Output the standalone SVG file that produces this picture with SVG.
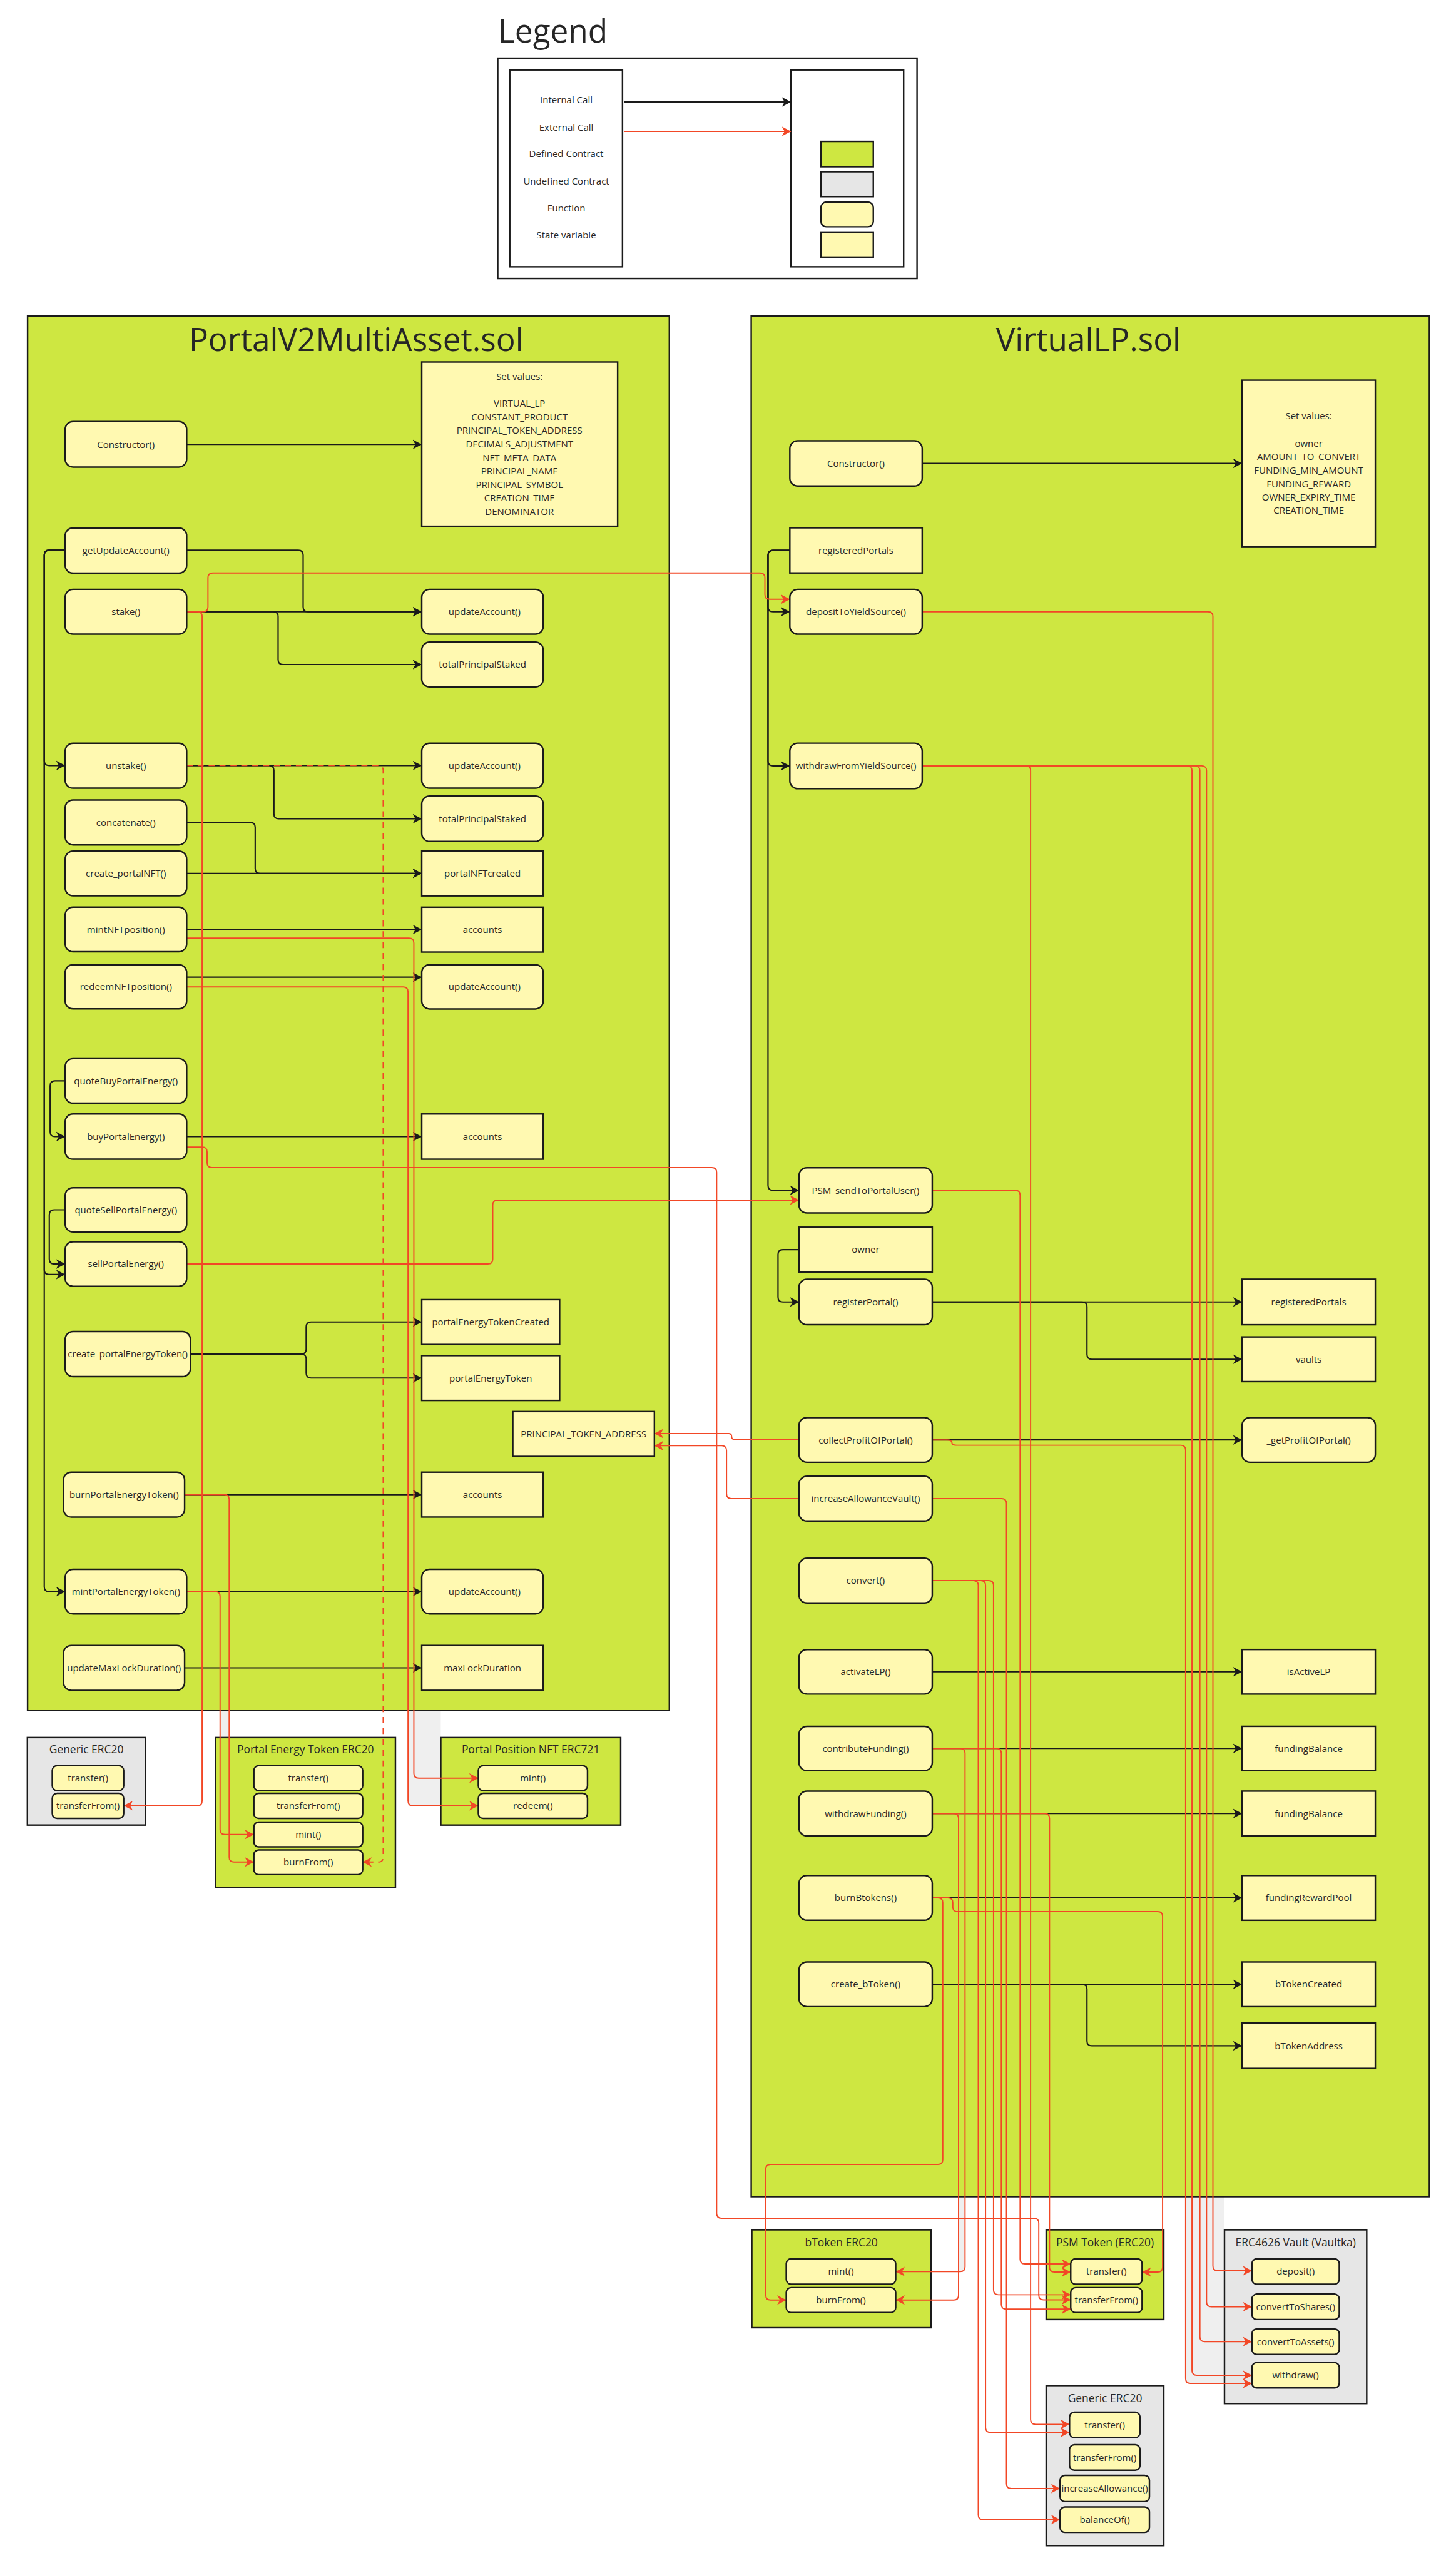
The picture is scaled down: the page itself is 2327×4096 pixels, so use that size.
<svg xmlns="http://www.w3.org/2000/svg" width="2327" height="4096" viewBox="0 0 2327 4096">
<defs>
<style>
.fn{fill:#FFF9B1;stroke:#1a1a1a;stroke-width:2.5}
.pg{fill:#CEE741;stroke:#1a1a1a;stroke-width:2.5}
.pu{fill:#E6E6E6;stroke:#1a1a1a;stroke-width:2.5}
.wb{fill:#FFFFFF;stroke:#1a1a1a;stroke-width:2.5}
.bg{fill:#EFEFEF}
text{font-family:"Open Sans","Noto Sans","Liberation Sans",sans-serif;fill:#262626}
.l{font-size:15.5px;text-anchor:middle}
.h{font-size:18px;text-anchor:middle}
.t{font-size:53px;text-anchor:middle}
.k{fill:none;stroke:#1a1a1a;stroke-width:2.2;stroke-linejoin:round;marker-end:url(#ak)}
.r{fill:none;stroke:#F24726;stroke-width:2;stroke-linejoin:round;marker-end:url(#ar)}
.d{stroke-dasharray:10 8}
</style>
<marker id="ak" markerUnits="userSpaceOnUse" markerWidth="16" markerHeight="18" refX="15" refY="9" orient="auto"><path d="M0,1 L15,9 L0,17 L4.5,9 z" fill="#1a1a1a"/></marker>
<marker id="ar" markerUnits="userSpaceOnUse" markerWidth="16" markerHeight="18" refX="15" refY="9" orient="auto"><path d="M0,1 L15,9 L0,17 L4.5,9 z" fill="#F24726"/></marker>
</defs>
<rect width="2327" height="4096" fill="#FFFFFF"/>
<g transform="scale(0.969)">

<g id="legend">
<text x="821.5" y="70" style="font-size:53px">Legend</text>
<rect class="wb" x="821" y="96" width="691.5" height="363.3"/>
<rect class="wb" x="840.8" y="115.3" width="185.9" height="324.7"/>
<rect class="wb" x="1304.5" y="115.3" width="185.9" height="324.7"/>
<text class="l" x="934" y="170">Internal Call</text>
<text class="l" x="934" y="215.5">External Call</text>
<text class="l" x="934" y="259.5">Defined Contract</text>
<text class="l" x="934" y="304.5">Undefined Contract</text>
<text class="l" x="934" y="348.5">Function</text>
<text class="l" x="934" y="393.5">State variable</text>
<path class="k" d="M1029.5,168.3 H1304.5"/>
<path class="r" d="M1029.5,216.7 H1304.5"/>
<rect class="pg" x="1354" y="233.3" width="86.4" height="41.7"/>
<rect class="pu" x="1354" y="283.3" width="86.4" height="41"/>
<rect class="fn" x="1354" y="333.3" width="86.4" height="40.7" rx="9"/>
<rect class="fn" x="1354" y="382.7" width="86.4" height="41.3"/>
</g>

<g id="bg-traces">
<rect class="bg" x="363" y="2821" width="15" height="45"/>
<rect class="bg" x="674" y="2821" width="53" height="157"/>
<rect class="bg" x="1955.5" y="3623" width="64" height="308"/>
<rect class="bg" x="1581" y="3623" width="11" height="123"/>
</g>

<g id="portal-contract">
<rect class="pg" x="45.5" y="521.2" width="1058.5" height="2299.8"/>
<text class="t" x="587.5" y="579">PortalV2MultiAsset.sol</text>
</g>
<g id="virtuallp-contract">
<rect class="pg" x="1239" y="521.2" width="1118.5" height="3101.6"/>
<text class="t" x="1795" y="579">VirtualLP.sol</text>
</g>

<g id="generic-erc20-left">
<rect class="pu" x="45.2" y="2865.7" width="194.5" height="144.3"/>
<text class="h" x="142.5" y="2892">Generic ERC20</text>
</g>
<g id="pet-erc20">
<rect class="pg" x="355.6" y="2865.7" width="296.6" height="247.6"/>
<text class="h" x="503.9" y="2892">Portal Energy Token ERC20</text>
</g>
<g id="nft-erc721">
<rect class="pg" x="727" y="2865.7" width="296.7" height="144.3"/>
<text class="h" x="875.3" y="2892">Portal Position NFT ERC721</text>
</g>
<g id="btoken-erc20">
<rect class="pg" x="1240" y="3677.5" width="295.5" height="161.5"/>
<text class="h" x="1387.7" y="3704.5">bToken ERC20</text>
</g>
<g id="psm-erc20">
<rect class="pg" x="1725.5" y="3677.5" width="194" height="148"/>
<text class="h" x="1822.5" y="3704.5">PSM Token (ERC20)</text>
</g>
<g id="vault-erc4626">
<rect class="pu" x="2019.6" y="3677.5" width="234.6" height="286.6"/>
<text class="h" x="2137" y="3704.5">ERC4626 Vault (Vaultka)</text>
</g>
<g id="generic-erc20-bottom">
<rect class="pu" x="1725.5" y="3934.4" width="194" height="264"/>
<text class="h" x="1822.5" y="3961.5">Generic ERC20</text>
</g>

<g id="connectors">
<path class="k" d="M308,733 H695.6"/>
<path class="k" d="M308,907.5 H492 Q500,907.5 500,915.5 V1001 Q500,1009 508,1009 H695.6"/>
<path class="k" d="M308,1009 H695.6"/>
<path class="k" d="M308,1009 H450.7 Q458.7,1009 458.7,1017 V1088 Q458.7,1096 466.7,1096 H695.6"/>
<path class="k" d="M107.5,907.5 H81 Q73,907.5 73,915.5 V1254.5 Q73,1262.5 81,1262.5 H107.5"/>
<path class="k" d="M107.5,907.5 H81 Q73,907.5 73,915.5 V2094 Q73,2102 81,2102 H107.5"/>
<path class="k" d="M107.5,907.5 H81 Q73,907.5 73,915.5 V2617 Q73,2625 81,2625 H107.5"/>
<path class="k" d="M308,1262.5 H695.6"/>
<path class="k" d="M308,1262.5 H443.8 Q451.8,1262.5 451.8,1270.5 V1342.4 Q451.8,1350.4 459.8,1350.4 H695.6"/>
<path class="k" d="M308,1356.4 H412.9 Q420.9,1356.4 420.9,1364.4 V1432.5 Q420.9,1440.5 428.9,1440.5 H695.6"/>
<path class="k" d="M308,1440.5 H695.6"/>
<path class="k" d="M308,1533 H695.6"/>
<path class="k" d="M308,1611.6 H695.6"/>
<path class="k" d="M107.5,1782.7 H90.7 Q82.7,1782.7 82.7,1790.7 V1866.5 Q82.7,1874.5 90.7,1874.5 H107.5"/>
<path class="k" d="M308,1874.5 H695.6"/>
<path class="k" d="M107.5,1995.4 H89.3 Q81.3,1995.4 81.3,2003.4 V2076.7 Q81.3,2084.7 89.3,2084.7 H107.5"/>
<path class="k" d="M314,2233.2 H497 Q505,2233.2 505,2225.2 V2188.4 Q505,2180.4 513,2180.4 H695.6"/>
<path class="k" d="M314,2233.2 H497 Q505,2233.2 505,2241.2 V2264.7 Q505,2272.7 513,2272.7 H695.6"/>
<path class="k" d="M304.5,2465 H695.6"/>
<path class="k" d="M308,2625 H695.6"/>
<path class="k" d="M304.5,2750.8 H695.6"/>

<path class="k" d="M1521,764.3 H2048.6"/>
<path class="k" d="M1302.7,907.7 H1274.7 Q1266.7,907.7 1266.7,915.7 V1001 Q1266.7,1009 1274.7,1009 H1302.7"/>
<path class="k" d="M1302.7,907.7 H1274.7 Q1266.7,907.7 1266.7,915.7 V1255 Q1266.7,1263 1274.7,1263 H1302.7"/>
<path class="k" d="M1302.7,907.7 H1274.7 Q1266.7,907.7 1266.7,915.7 V1955.2 Q1266.7,1963.2 1274.7,1963.2 H1317.8"/>
<path class="k" d="M1317.8,2061 H1291.2 Q1283.2,2061 1283.2,2069 V2139.3 Q1283.2,2147.3 1291.2,2147.3 H1317.8"/>
<path class="k" d="M1537.6,2147.3 H2048.6"/>
<path class="k" d="M1537.6,2147.3 H1784.8 Q1792.8,2147.3 1792.8,2155.3 V2233.8 Q1792.8,2241.8 1800.8,2241.8 H2048.6"/>
<path class="k" d="M1537.6,2374.8 H2048.6"/>
<path class="k" d="M1537.6,2757.2 H2048.6"/>
<path class="k" d="M1537.6,2883.7 H2048.6"/>
<path class="k" d="M1537.6,2991 H2048.6"/>
<path class="k" d="M1537.6,3130 H2048.6"/>
<path class="k" d="M1537.6,3272.6 H2048.6"/>
<path class="k" d="M1537.6,3272.6 H1784.8 Q1792.8,3272.6 1792.8,3280.6 V3366 Q1792.8,3374 1800.8,3374 H2048.6"/>

<path class="r" d="M308,1009 H335 Q343,1009 343,1001 V953 Q343,945 351,945 H1253.6 Q1261.6,945 1261.6,953 V980.4 Q1261.6,988.4 1269.6,988.4 H1302.7"/>
<path class="r" d="M308,1009 H325.4 Q333.4,1009 333.4,1017 V2970 Q333.4,2978 325.4,2978 H204"/>
<path class="r d" d="M308,1262.5 H624 Q632,1262.5 632,1270.5 V3063 Q632,3071 624,3071 H598.2"/>
<path class="r" d="M308,1547.3 H674.6 Q682.6,1547.3 682.6,1555.3 V2924.7 Q682.6,2932.7 690.6,2932.7 H788.9"/>
<path class="r" d="M308,1627.7 H665 Q673,1627.7 673,1635.7 V2970 Q673,2978 681,2978 H788.9"/>
<path class="r" d="M308,1891.8 H333.6 Q341.6,1891.8 341.6,1899.8 V1917.7 Q341.6,1925.7 349.6,1925.7 H1174 Q1182,1925.7 1182,1933.7 V3650.4 Q1182,3658.4 1190,3658.4 H1705.3 Q1713.3,3658.4 1713.3,3666.4 V3785 Q1713.3,3793 1721.3,3793 H1766"/>
<path class="r" d="M308,2084.7 H804.7 Q812.7,2084.7 812.7,2076.7 V1987.3 Q812.7,1979.3 820.7,1979.3 H1317.8"/>
<path class="r" d="M304.5,2465 H370 Q378,2465 378,2473 V3063 Q378,3071 386,3071 H418.7"/>
<path class="r" d="M308,2625 H355 Q363,2625 363,2633 V3017.5 Q363,3025.5 371,3025.5 H418.7"/>
<path class="r" d="M1317.8,2374.3 H1212 Q1206.7,2374.3 1206.7,2369.3 Q1206.7,2364.3 1201.7,2364.3 H1079.3"/>
<path class="r" d="M1317.8,2471.6 H1206.3 Q1198.3,2471.6 1198.3,2463.6 V2392.3 Q1198.3,2384.3 1190.3,2384.3 H1079.3"/>
<path class="r" d="M1521,1009 H1992.5 Q2000.5,1009 2000.5,1017 V3737 Q2000.5,3745 2008.5,3745 H2064.9"/>
<path class="r" d="M1521,1263 H1691.8 Q1699.8,1263 1699.8,1271 V3990.3 Q1699.8,3998.3 1707.8,3998.3 H1764"/>
<path class="r" d="M1521,1263 H1958 Q1966,1263 1966,1271 V3909.4 Q1966,3917.4 1974,3917.4 H2064.9"/>
<path class="r" d="M1521,1263 H1971 Q1979,1263 1979,1271 V3854 Q1979,3862 1987,3862 H2064.9"/>
<path class="r" d="M1521,1263 H1982 Q1990,1263 1990,1271 V3796.5 Q1990,3804.5 1998,3804.5 H2064.9"/>
<path class="r" d="M1537.6,1963.2 H1674.5 Q1682.5,1963.2 1682.5,1971.2 V3725.8 Q1682.5,3733.8 1690.5,3733.8 H1766"/>
<path class="r" d="M1537.6,2374.8 H1562 Q1570,2374.8 1570,2379 Q1570,2383.5 1578,2383.5 H1947.5 Q1955.5,2383.5 1955.5,2391.5 V3922.9 Q1955.5,3930.9 1963.5,3930.9 H2064.9"/>
<path class="r" d="M1537.6,2471.6 H1652 Q1660,2471.6 1660,2479.6 V4096.2 Q1660,4104.2 1668,4104.2 H1748.4"/>
<path class="r" d="M1537.6,2606.9 H1605.5 Q1613.5,2606.9 1613.5,2614.9 V4147.5 Q1613.5,4155.5 1621.5,4155.5 H1748.4"/>
<path class="r" d="M1537.6,2606.9 H1617.5 Q1625.5,2606.9 1625.5,2614.9 V4003.7 Q1625.5,4011.7 1633.5,4011.7 H1764"/>
<path class="r" d="M1537.6,2606.9 H1630.7 Q1638.7,2606.9 1638.7,2614.9 V3776.7 Q1638.7,3784.7 1646.7,3784.7 H1766"/>
<path class="r" d="M1537.6,2883.7 H1583.7 Q1591.7,2883.7 1591.7,2891.7 V3738.4 Q1591.7,3746.4 1583.7,3746.4 H1477.3"/>
<path class="r" d="M1537.6,2883.7 H1643.5 Q1651.5,2883.7 1651.5,2891.7 V3800.4 Q1651.5,3808.4 1659.5,3808.4 H1766"/>
<path class="r" d="M1537.6,2991 H1573 Q1581,2991 1581,2999 V3785.4 Q1581,3793.4 1573,3793.4 H1477.3"/>
<path class="r" d="M1537.6,2991 H1723 Q1731,2991 1731,2999 V3739.2 Q1731,3747.2 1739,3747.2 H1766"/>
<path class="r" d="M1537.6,3130 H1547 Q1555,3130 1555,3138 V3561.6 Q1555,3569.6 1547,3569.6 H1271 Q1263,3569.6 1263,3577.6 V3785.4 Q1263,3793.4 1271,3793.4 H1296.8"/>
<path class="r" d="M1537.6,3130 H1563.5 Q1571.5,3130 1571.5,3138 V3144.8 Q1571.5,3152.8 1579.5,3152.8 H1909.5 Q1917.5,3152.8 1917.5,3160.8 V3739.2 Q1917.5,3747.2 1909.5,3747.2 H1883.7"/>
</g>

<g id="p-constructor"><rect class="fn" x="107.5" y="695.3" width="200.4" height="75" rx="13"/><text class="l" x="207.7" y="738.5">Constructor()</text></g>
<g id="p-setvalues"><rect class="fn" x="695.6" y="597" width="323.1" height="271"/>
<text class="l" x="856.8" y="626.2">Set values:</text>
<text class="l" x="856.8" y="670.9">VIRTUAL_LP</text>
<text class="l" x="856.8" y="693.2">CONSTANT_PRODUCT</text>
<text class="l" x="856.8" y="715.5">PRINCIPAL_TOKEN_ADDRESS</text>
<text class="l" x="856.8" y="737.8">DECIMALS_ADJUSTMENT</text>
<text class="l" x="856.8" y="760.1">NFT_META_DATA</text>
<text class="l" x="856.8" y="782.5">PRINCIPAL_NAME</text>
<text class="l" x="856.8" y="804.8">PRINCIPAL_SYMBOL</text>
<text class="l" x="856.8" y="827.1">CREATION_TIME</text>
<text class="l" x="856.8" y="849.5">DENOMINATOR</text></g>
<g id="p-getupdateaccount"><rect class="fn" x="107.5" y="870.7" width="200.4" height="74.6" rx="13"/><text class="l" x="207.7" y="913.5">getUpdateAccount()</text></g>
<g id="p-stake"><rect class="fn" x="107.5" y="972" width="200.4" height="74" rx="13"/><text class="l" x="207.7" y="1014.5">stake()</text></g>
<g id="p-updateaccount-1"><rect class="fn" x="695.6" y="972" width="200.4" height="74" rx="13"/><text class="l" x="795.8" y="1014.5">_updateAccount()</text></g>
<g id="p-totalprincipalstaked-1"><rect class="fn" x="695.6" y="1059" width="200.4" height="74" rx="13"/><text class="l" x="795.8" y="1101.5">totalPrincipalStaked</text></g>
<g id="p-unstake"><rect class="fn" x="107.5" y="1225.8" width="200.4" height="74" rx="13"/><text class="l" x="207.7" y="1268">unstake()</text></g>
<g id="p-updateaccount-2"><rect class="fn" x="695.6" y="1225.8" width="200.4" height="74" rx="13"/><text class="l" x="795.8" y="1268">_updateAccount()</text></g>
<g id="p-concatenate"><rect class="fn" x="107.5" y="1319.4" width="200.4" height="74" rx="13"/><text class="l" x="207.7" y="1362">concatenate()</text></g>
<g id="p-totalprincipalstaked-2"><rect class="fn" x="695.6" y="1313" width="200.4" height="74.7" rx="13"/><text class="l" x="795.8" y="1356">totalPrincipalStaked</text></g>
<g id="p-create-portalnft"><rect class="fn" x="107.5" y="1403.8" width="200.4" height="73.5" rx="13"/><text class="l" x="207.7" y="1446">create_portalNFT()</text></g>
<g id="p-portalnftcreated"><rect class="fn" x="695.6" y="1403.5" width="200.4" height="74"/><text class="l" x="795.8" y="1446">portalNFTcreated</text></g>
<g id="p-mintnftposition"><rect class="fn" x="107.5" y="1496.2" width="200.4" height="73.5" rx="13"/><text class="l" x="207.7" y="1538.5">mintNFTposition()</text></g>
<g id="p-accounts-1"><rect class="fn" x="695.6" y="1496.2" width="200.4" height="74"/><text class="l" x="795.8" y="1538.5">accounts</text></g>
<g id="p-redeemnftposition"><rect class="fn" x="107.5" y="1591" width="200.4" height="72.8" rx="13"/><text class="l" x="207.7" y="1633">redeemNFTposition()</text></g>
<g id="p-updateaccount-3"><rect class="fn" x="695.6" y="1591" width="200.4" height="73" rx="13"/><text class="l" x="795.8" y="1633">_updateAccount()</text></g>
<g id="p-quotebuy"><rect class="fn" x="107.5" y="1746" width="200.4" height="73.4" rx="13"/><text class="l" x="207.7" y="1788">quoteBuyPortalEnergy()</text></g>
<g id="p-buy"><rect class="fn" x="107.5" y="1837.2" width="200.4" height="74.6" rx="13"/><text class="l" x="207.7" y="1880">buyPortalEnergy()</text></g>
<g id="p-accounts-2"><rect class="fn" x="695.6" y="1837.2" width="200.4" height="74.6"/><text class="l" x="795.8" y="1880">accounts</text></g>
<g id="p-quotesell"><rect class="fn" x="107.5" y="1959" width="200.4" height="72.8" rx="13"/><text class="l" x="207.7" y="2001">quoteSellPortalEnergy()</text></g>
<g id="p-sell"><rect class="fn" x="107.5" y="2048" width="200.4" height="73.4" rx="13"/><text class="l" x="207.7" y="2090">sellPortalEnergy()</text></g>
<g id="p-create-pet"><rect class="fn" x="107.5" y="2196" width="206.5" height="74.4" rx="13"/><text class="l" x="210.7" y="2238.7">create_portalEnergyToken()</text></g>
<g id="p-petcreated"><rect class="fn" x="695.6" y="2143.4" width="227.4" height="74"/><text class="l" x="809.3" y="2186">portalEnergyTokenCreated</text></g>
<g id="p-pet"><rect class="fn" x="695.6" y="2235.7" width="227.4" height="74"/><text class="l" x="809.3" y="2278.2">portalEnergyToken</text></g>
<g id="p-pta"><rect class="fn" x="845.8" y="2328" width="233.5" height="74"/><text class="l" x="962.5" y="2370.5">PRINCIPAL_TOKEN_ADDRESS</text></g>
<g id="p-burnpet"><rect class="fn" x="104.7" y="2428" width="199.8" height="74" rx="13"/><text class="l" x="204.6" y="2470.5">burnPortalEnergyToken()</text></g>
<g id="p-accounts-3"><rect class="fn" x="695.6" y="2428" width="200.4" height="74"/><text class="l" x="795.8" y="2470.5">accounts</text></g>
<g id="p-mintpet"><rect class="fn" x="107.5" y="2588.3" width="200.4" height="73.4" rx="13"/><text class="l" x="207.7" y="2630.5">mintPortalEnergyToken()</text></g>
<g id="p-updateaccount-4"><rect class="fn" x="695.6" y="2588.3" width="200.4" height="73.4" rx="13"/><text class="l" x="795.8" y="2630.5">_updateAccount()</text></g>
<g id="p-updatemaxlock"><rect class="fn" x="104.7" y="2713.8" width="199.8" height="74" rx="13"/><text class="l" x="204.6" y="2756.3">updateMaxLockDuration()</text></g>
<g id="p-maxlockduration"><rect class="fn" x="695.6" y="2713.8" width="200.4" height="74"/><text class="l" x="795.8" y="2756.3">maxLockDuration</text></g>

<g id="ge-transfer"><rect class="fn" x="86.2" y="2912" width="117.8" height="41.3" rx="8"/><text class="l" x="145.1" y="2938.2">transfer()</text></g>
<g id="ge-transferfrom"><rect class="fn" x="86.2" y="2957.7" width="117.8" height="41.3" rx="8"/><text class="l" x="145.1" y="2983.8">transferFrom()</text></g>
<g id="pet-transfer"><rect class="fn" x="418.7" y="2912" width="179.5" height="41.3" rx="8"/><text class="l" x="508.5" y="2938.2">transfer()</text></g>
<g id="pet-transferfrom"><rect class="fn" x="418.7" y="2957.7" width="179.5" height="41.3" rx="8"/><text class="l" x="508.5" y="2983.8">transferFrom()</text></g>
<g id="pet-mint"><rect class="fn" x="418.7" y="3005" width="179.5" height="41" rx="8"/><text class="l" x="508.5" y="3031">mint()</text></g>
<g id="pet-burnfrom"><rect class="fn" x="418.7" y="3051" width="179.5" height="40.7" rx="8"/><text class="l" x="508.5" y="3076.8">burnFrom()</text></g>
<g id="nft-mint"><rect class="fn" x="788.9" y="2912" width="180.1" height="41.3" rx="8"/><text class="l" x="879" y="2938.2">mint()</text></g>
<g id="nft-redeem"><rect class="fn" x="788.9" y="2957.7" width="180.1" height="41.3" rx="8"/><text class="l" x="879" y="2983.8">redeem()</text></g>

<g id="v-constructor"><rect class="fn" x="1302.7" y="727" width="218.3" height="74.6" rx="13"/><text class="l" x="1411.8" y="769.8">Constructor()</text></g>
<g id="v-setvalues"><rect class="fn" x="2048.6" y="627" width="219.8" height="274.6"/>
<text class="l" x="2158.5" y="691.3">Set values:</text>
<text class="l" x="2158.5" y="736.7">owner</text>
<text class="l" x="2158.5" y="758.7">AMOUNT_TO_CONVERT</text>
<text class="l" x="2158.5" y="781.1">FUNDING_MIN_AMOUNT</text>
<text class="l" x="2158.5" y="803.5">FUNDING_REWARD</text>
<text class="l" x="2158.5" y="825.5">OWNER_EXPIRY_TIME</text>
<text class="l" x="2158.5" y="847.5">CREATION_TIME</text></g>
<g id="v-registeredportals-1"><rect class="fn" x="1302.7" y="870.5" width="218.3" height="74.5"/><text class="l" x="1411.8" y="913.2">registeredPortals</text></g>
<g id="v-deposit"><rect class="fn" x="1302.7" y="972" width="218.3" height="74" rx="13"/><text class="l" x="1411.8" y="1014.5">depositToYieldSource()</text></g>
<g id="v-withdraw"><rect class="fn" x="1302.7" y="1225.6" width="218.3" height="75" rx="13"/><text class="l" x="1411.8" y="1268.5">withdrawFromYieldSource()</text></g>
<g id="v-psmsend"><rect class="fn" x="1317.8" y="1926" width="219.8" height="74.5" rx="13"/><text class="l" x="1427.7" y="1968.7">PSM_sendToPortalUser()</text></g>
<g id="v-owner"><rect class="fn" x="1317.8" y="2024" width="219.8" height="74"/><text class="l" x="1427.7" y="2066.5">owner</text></g>
<g id="v-registerportal"><rect class="fn" x="1317.8" y="2109.8" width="219.8" height="75" rx="13"/><text class="l" x="1427.7" y="2152.8">registerPortal()</text></g>
<g id="v-registeredportals-2"><rect class="fn" x="2048.6" y="2109.8" width="219.8" height="75"/><text class="l" x="2158.5" y="2152.8">registeredPortals</text></g>
<g id="v-vaults"><rect class="fn" x="2048.6" y="2205" width="219.8" height="73.6"/><text class="l" x="2158.5" y="2247.3">vaults</text></g>
<g id="v-collect"><rect class="fn" x="1317.8" y="2338" width="219.8" height="73.6" rx="13"/><text class="l" x="1427.7" y="2380.3">collectProfitOfPortal()</text></g>
<g id="v-getprofit"><rect class="fn" x="2048.6" y="2338" width="219.8" height="73.6" rx="13"/><text class="l" x="2158.5" y="2380.3">_getProfitOfPortal()</text></g>
<g id="v-increaseallowance"><rect class="fn" x="1317.8" y="2434.8" width="219.8" height="73.7" rx="13"/><text class="l" x="1427.7" y="2477.1">increaseAllowanceVault()</text></g>
<g id="v-convert"><rect class="fn" x="1317.8" y="2570" width="219.8" height="73.7" rx="13"/><text class="l" x="1427.7" y="2612.4">convert()</text></g>
<g id="v-activatelp"><rect class="fn" x="1317.8" y="2720.5" width="219.8" height="73.5" rx="13"/><text class="l" x="1427.7" y="2762.7">activateLP()</text></g>
<g id="v-isactivelp"><rect class="fn" x="2048.6" y="2720.5" width="219.8" height="73.5"/><text class="l" x="2158.5" y="2762.7">isActiveLP</text></g>
<g id="v-contribute"><rect class="fn" x="1317.8" y="2847.2" width="219.8" height="73" rx="13"/><text class="l" x="1427.7" y="2889.2">contributeFunding()</text></g>
<g id="v-fundingbalance-1"><rect class="fn" x="2048.6" y="2847.2" width="219.8" height="73"/><text class="l" x="2158.5" y="2889.2">fundingBalance</text></g>
<g id="v-withdrawfunding"><rect class="fn" x="1317.8" y="2954" width="219.8" height="74" rx="13"/><text class="l" x="1427.7" y="2996.5">withdrawFunding()</text></g>
<g id="v-fundingbalance-2"><rect class="fn" x="2048.6" y="2954" width="219.8" height="74"/><text class="l" x="2158.5" y="2996.5">fundingBalance</text></g>
<g id="v-burnbtokens"><rect class="fn" x="1317.8" y="3093.2" width="219.8" height="73.8" rx="13"/><text class="l" x="1427.7" y="3135.5">burnBtokens()</text></g>
<g id="v-fundingrewardpool"><rect class="fn" x="2048.6" y="3093.2" width="219.8" height="73.8"/><text class="l" x="2158.5" y="3135.5">fundingRewardPool</text></g>
<g id="v-createbtoken"><rect class="fn" x="1317.8" y="3235.8" width="219.8" height="73.7" rx="13"/><text class="l" x="1427.7" y="3278.1">create_bToken()</text></g>
<g id="v-btokencreated"><rect class="fn" x="2048.6" y="3235.8" width="219.8" height="73.7"/><text class="l" x="2158.5" y="3278.1">bTokenCreated</text></g>
<g id="v-btokenaddress"><rect class="fn" x="2048.6" y="3336.6" width="219.8" height="74.8"/><text class="l" x="2158.5" y="3379.5">bTokenAddress</text></g>

<g id="bt-mint"><rect class="fn" x="1296.8" y="3725.3" width="180.5" height="42" rx="8"/><text class="l" x="1387" y="3751.8">mint()</text></g>
<g id="bt-burnfrom"><rect class="fn" x="1296.8" y="3772.8" width="180.5" height="41.2" rx="8"/><text class="l" x="1387" y="3798.9">burnFrom()</text></g>
<g id="psm-transfer"><rect class="fn" x="1766" y="3725.3" width="117.7" height="42" rx="8"/><text class="l" x="1824.8" y="3751.8">transfer()</text></g>
<g id="psm-transferfrom"><rect class="fn" x="1766" y="3772.8" width="117.7" height="41.2" rx="8"/><text class="l" x="1824.8" y="3798.9">transferFrom()</text></g>
<g id="vault-deposit"><rect class="fn" x="2064.9" y="3725.3" width="144" height="42" rx="8"/><text class="l" x="2136.9" y="3751.8">deposit()</text></g>
<g id="vault-converttoshares"><rect class="fn" x="2064.9" y="3783.5" width="144" height="42" rx="8"/><text class="l" x="2136.9" y="3810">convertToShares()</text></g>
<g id="vault-converttoassets"><rect class="fn" x="2064.9" y="3841" width="144" height="42" rx="8"/><text class="l" x="2136.9" y="3867.5">convertToAssets()</text></g>
<g id="vault-withdraw"><rect class="fn" x="2064.9" y="3896.4" width="144" height="42" rx="8"/><text class="l" x="2136.9" y="3922.9">withdraw()</text></g>
<g id="gb-transfer"><rect class="fn" x="1764" y="3978.4" width="116.3" height="42" rx="8"/><text class="l" x="1822.1" y="4004.9">transfer()</text></g>
<g id="gb-transferfrom"><rect class="fn" x="1764" y="4032" width="116.3" height="42" rx="8"/><text class="l" x="1822.1" y="4058.5">transferFrom()</text></g>
<g id="gb-increaseallowance"><rect class="fn" x="1748.4" y="4082.5" width="147.4" height="43.3" rx="8"/><text class="l" x="1822.1" y="4109.7">increaseAllowance()</text></g>
<g id="gb-balanceof"><rect class="fn" x="1748.4" y="4134.6" width="147.4" height="42" rx="8"/><text class="l" x="1822.1" y="4161.1">balanceOf()</text></g>

</g>
</svg>
